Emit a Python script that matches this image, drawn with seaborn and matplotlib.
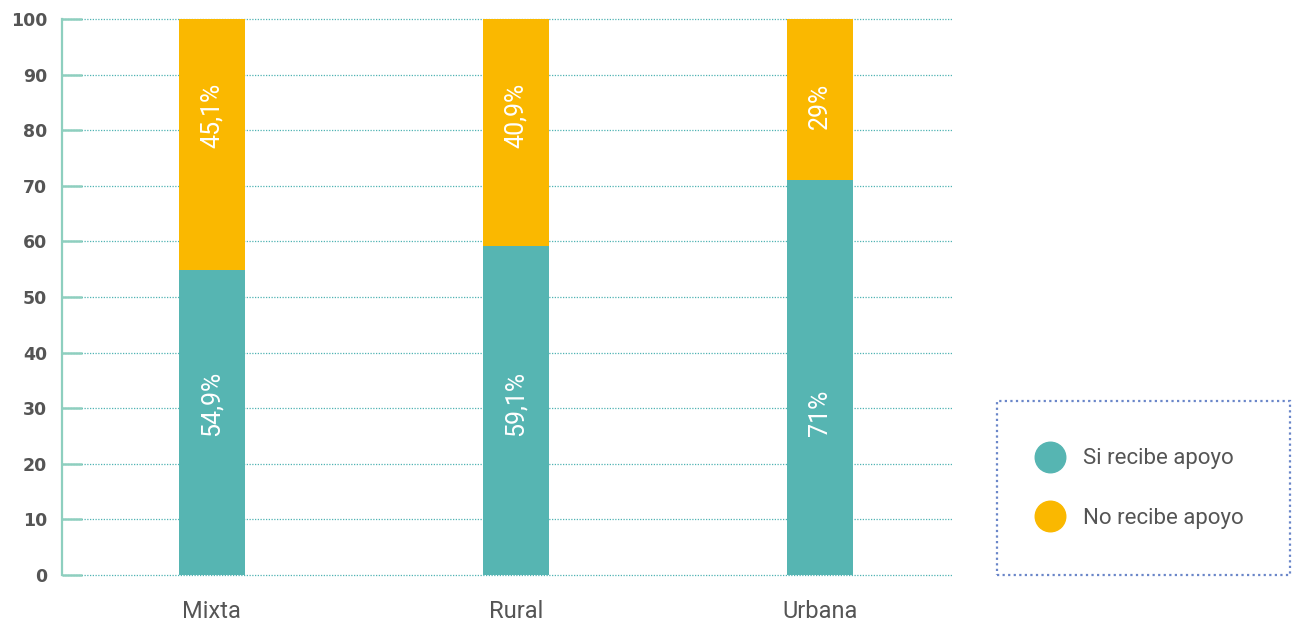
import matplotlib
matplotlib.use('Agg')
import pandas as pd
import seaborn as sns
from matplotlib import pyplot as plt
from matplotlib.lines import Line2D
from matplotlib.patches import Rectangle

categories = ['Mixta', 'Rural', 'Urbana']
si_recibe = [54.9, 59.1, 71]
no_recibe = [45.1, 40.9, 29]
series_names = ['Si recibe apoyo', 'No recibe apoyo']
y_ticks = [0, 10, 20, 30, 40, 50, 60, 70, 80, 90, 100]

TEAL = '#56b5b2'
ORANGE = '#fab800'
SPINE = '#8ecfbf'
GRID = '#4fb3b3'
TEXT = '#555555'


def fmt(v):
    return f'{v:g}'.replace('.', ',') + '%'


def main():
    sns.set_style('white')
    plt.rcParams['font.family'] = ['Roboto', 'DejaVu Sans']

    df = pd.DataFrame({'categoria': categories, 'si': si_recibe, 'no': no_recibe})
    df['total'] = df['si'] + df['no']

    fig = plt.figure(figsize=(12.92, 6.26), dpi=100)
    ax = fig.add_axes([62 / 1292, 1 - 575 / 626, (953 - 62) / 1292, (575 - 19) / 626])

    # stacked bars: the total in orange, the "si" part on top of it in teal
    sns.barplot(data=df, x='categoria', y='total', color=ORANGE, width=0.217,
                saturation=1, linewidth=0, ax=ax, zorder=2)
    sns.barplot(data=df, x='categoria', y='si', color=TEAL, width=0.217,
                saturation=1, linewidth=0, ax=ax, zorder=3)

    for i, row in df.iterrows():
        ax.text(i, 25, fmt(row['si']), rotation=90, ha='center', va='bottom',
                color='white', fontsize=18, zorder=4)
        ax.text(i, 88.6, fmt(row['no']), rotation=90, ha='center', va='top',
                color='white', fontsize=18, zorder=4)

    ax.set_xlim(-0.493, 2.437)
    ax.set_ylim(0, 100)
    ax.set_yticks(y_ticks)
    ax.set_xlabel('')
    ax.set_ylabel('')

    ax.yaxis.grid(True, color=GRID, linestyle=(0, (1, 1.2)), linewidth=0.9)
    ax.xaxis.grid(False)
    ax.set_axisbelow(True)
    for gl in ax.get_ygridlines():
        gl.set_clip_on(False)

    for side in ['top', 'right', 'bottom']:
        ax.spines[side].set_visible(False)
    ax.spines['left'].set_color(SPINE)
    ax.spines['left'].set_linewidth(1.6)

    ax.tick_params(axis='y', left=True, direction='in', length=14.4, width=1.8,
                   color=SPINE, pad=10.8, labelsize=12.5, labelcolor=TEXT)
    for lab in ax.get_yticklabels():
        lab.set_fontfamily('DejaVu Sans')
        lab.set_fontweight('bold')
    ax.tick_params(axis='x', bottom=False, length=0, pad=18, labelsize=17, labelcolor=TEXT)

    handles = [
        Line2D([], [], linestyle='none', marker='o', markersize=22,
               markerfacecolor=TEAL, markeredgecolor=TEAL),
        Line2D([], [], linestyle='none', marker='o', markersize=22,
               markerfacecolor=ORANGE, markeredgecolor=ORANGE),
    ]
    leg = fig.legend(handles, series_names, loc='center left',
                     bbox_to_anchor=(1014.6 / 1292, 1 - 488.5 / 626),
                     frameon=False, fontsize=16, handlelength=1.4,
                     handletextpad=0.8, labelspacing=1.72)
    for t in leg.get_texts():
        t.set_color(TEXT)

    fig.add_artist(Rectangle((997 / 1292, 1 - 575 / 626), (1290 - 997) / 1292, 174 / 626,
                             transform=fig.transFigure, fill=False,
                             edgecolor='#6a86c9', linestyle=(0, (1, 1.5)), linewidth=1.6))

    fig.savefig('out.png', dpi=100)


if __name__ == '__main__':
    main()
